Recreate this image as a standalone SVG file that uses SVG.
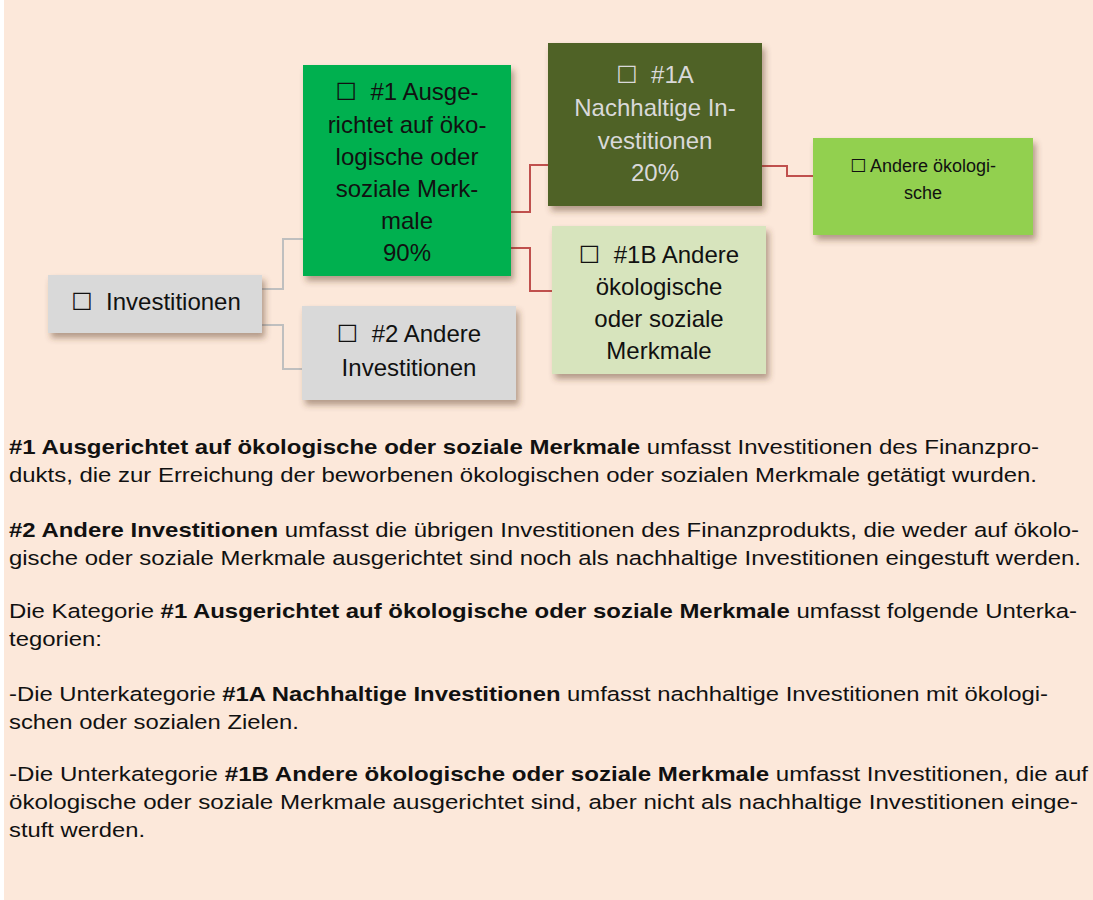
<svg xmlns="http://www.w3.org/2000/svg" width="1093" height="900" viewBox="0 0 1093 900">
<style>
.node text{font-family:"Liberation Sans","DejaVu Sans",sans-serif;font-size:24px;text-anchor:middle;fill:#111;}
.small text{font-size:18px;}
.light text{fill:#D9D9D9;}
.para{font-family:"Liberation Sans","DejaVu Sans",sans-serif;font-size:20.5px;fill:#111;}
.b{font-weight:bold;}
.gray{fill:none;stroke:#BFBFBF;stroke-width:2;}
.red{fill:none;stroke:#C0504D;stroke-width:2;}
</style>
<defs>
<filter id="sh" x="-10%" y="-10%" width="130%" height="140%">
<feDropShadow dx="3" dy="5" stdDeviation="3" flood-color="#5a3a20" flood-opacity="0.45"/>
</filter>
</defs>
<rect x="0" y="0" width="1093" height="900" fill="#FFFFFF"/>
<rect x="4" y="0" width="1089" height="900" fill="#FCE8DA"/>

<g id="connectors">
<polyline class="gray" points="262,289 283,289 283,239 303,239"/>
<polyline class="gray" points="262,325 283,325 283,369 302,369"/>
<polyline class="red" points="511,212 530,212 530,165 548,165"/>
<polyline class="red" points="511,248 530,248 530,291 552,291"/>
<polyline class="red" points="762,166 787,166 787,176 813,176"/>
</g>

<g id="n-invest" class="node">
<rect x="48" y="275" width="214" height="58" fill="#D9D9D9" filter="url(#sh)"/>
<text x="156" y="310">☐&#160; Investitionen</text>
</g>

<g id="n-1" class="node">
<rect x="303" y="65" width="208" height="211" fill="#00B050" filter="url(#sh)"/>
<text x="407" y="100">☐&#160; #1 Ausge-</text>
<text x="407" y="132.5">richtet auf öko-</text>
<text x="407" y="165">logische oder</text>
<text x="407" y="197">soziale Merk-</text>
<text x="407" y="229">male</text>
<text x="407" y="261">90%</text>
</g>

<g id="n-2" class="node">
<rect x="302" y="306" width="214" height="94" fill="#D9D9D9" filter="url(#sh)"/>
<text x="409" y="342">☐&#160; #2 Andere</text>
<text x="409" y="376">Investitionen</text>
</g>

<g id="n-1a" class="node light">
<rect x="548" y="43" width="214" height="163" fill="#4F6228" filter="url(#sh)"/>
<text x="655" y="83">☐&#160; #1A</text>
<text x="655" y="116">Nachhaltige In-</text>
<text x="655" y="149">vestitionen</text>
<text x="655" y="181">20%</text>
</g>

<g id="n-1b" class="node">
<rect x="552" y="226" width="214" height="148" fill="#D7E4BD" filter="url(#sh)"/>
<text x="659" y="263">☐&#160; #1B Andere</text>
<text x="659" y="295">ökologische</text>
<text x="659" y="327">oder soziale</text>
<text x="659" y="359">Merkmale</text>
</g>

<g id="n-andere" class="node small">
<rect x="813" y="138" width="220" height="97" fill="#92D050" filter="url(#sh)"/>
<text x="923" y="172">☐ Andere ökologi-</text>
<text x="923" y="199">sche</text>
</g>

<g id="legend" class="para">
<text x="9" y="454" textLength="1030" lengthAdjust="spacingAndGlyphs"><tspan class="b">#1 Ausgerichtet auf ökologische oder soziale Merkmale</tspan> umfasst Investitionen des Finanzpro-</text>
<text x="9" y="482" textLength="1028" lengthAdjust="spacingAndGlyphs">dukts, die zur Erreichung der beworbenen ökologischen oder sozialen Merkmale getätigt wurden.</text>
<text x="9" y="537" textLength="1070" lengthAdjust="spacingAndGlyphs"><tspan class="b">#2 Andere Investitionen</tspan> umfasst die übrigen Investitionen des Finanzprodukts, die weder auf ökolo-</text>
<text x="9" y="565" textLength="1072" lengthAdjust="spacingAndGlyphs">gische oder soziale Merkmale ausgerichtet sind noch als nachhaltige Investitionen eingestuft werden.</text>
<text x="9" y="618" textLength="1068" lengthAdjust="spacingAndGlyphs">Die Kategorie <tspan class="b">#1 Ausgerichtet auf ökologische oder soziale Merkmale</tspan> umfasst folgende Unterka-</text>
<text x="9" y="646" textLength="93" lengthAdjust="spacingAndGlyphs">tegorien:</text>
<text x="9" y="701" textLength="1039" lengthAdjust="spacingAndGlyphs">-Die Unterkategorie <tspan class="b">#1A Nachhaltige Investitionen</tspan> umfasst nachhaltige Investitionen mit ökologi-</text>
<text x="9" y="729" textLength="290" lengthAdjust="spacingAndGlyphs">schen oder sozialen Zielen.</text>
<text x="9" y="781" textLength="1079" lengthAdjust="spacingAndGlyphs">-Die Unterkategorie <tspan class="b">#1B Andere ökologische oder soziale Merkmale</tspan> umfasst Investitionen, die auf</text>
<text x="9" y="809" textLength="1069" lengthAdjust="spacingAndGlyphs">ökologische oder soziale Merkmale ausgerichtet sind, aber nicht als nachhaltige Investitionen einge-</text>
<text x="9" y="837" textLength="136" lengthAdjust="spacingAndGlyphs">stuft werden.</text>
</g>
</svg>
